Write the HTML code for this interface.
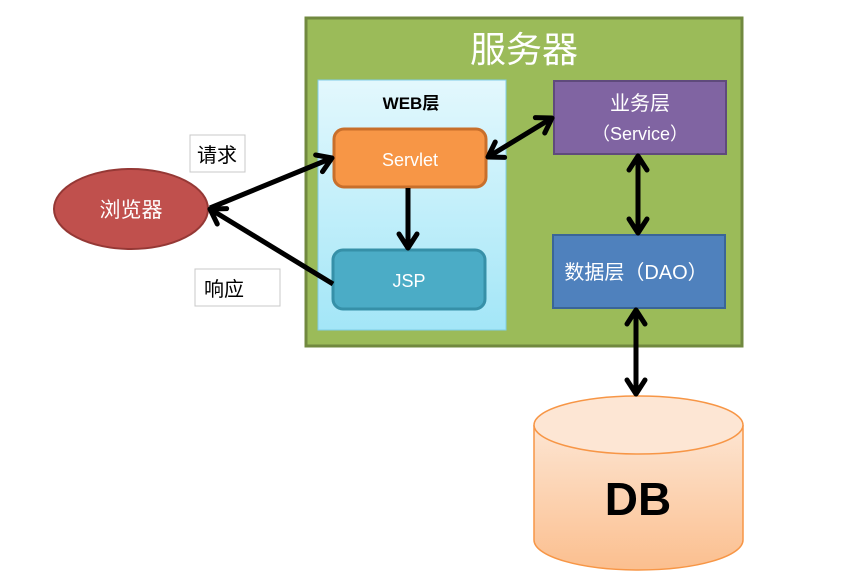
<!DOCTYPE html>
<html><head><meta charset="utf-8"><style>
html,body{margin:0;padding:0;background:#fff;width:850px;height:585px;overflow:hidden}
text{font-family:"Liberation Sans","Noto Sans CJK SC",sans-serif}
</style></head><body>
<svg width="850" height="585" viewBox="0 0 850 585" xmlns="http://www.w3.org/2000/svg">
<defs>
<linearGradient id="web" x1="0" y1="0" x2="0" y2="1"><stop offset="0" stop-color="#e3f8fd"/><stop offset="1" stop-color="#a3e6f7"/></linearGradient>
<linearGradient id="db" x1="0" y1="0" x2="0" y2="1"><stop offset="0" stop-color="#fde5d2"/><stop offset="1" stop-color="#fbbf8f"/></linearGradient>
<marker id="ah" viewBox="0 0 24 24" refX="20" refY="12" markerWidth="24" markerHeight="24" markerUnits="userSpaceOnUse" orient="auto-start-reverse">
<polyline points="6,3 20,12 6,21" fill="none" stroke="#000" stroke-width="5" stroke-linecap="round" stroke-linejoin="round"/>
</marker>
</defs>
<rect x="306" y="18" width="436" height="328" fill="#9bbb59" stroke="#71893f" stroke-width="3"/>
<text x="524" y="62" font-size="36" fill="#fff" text-anchor="middle">服务器</text>
<rect x="318" y="80" width="188" height="250" fill="url(#web)" stroke="#7fcde6" stroke-width="1"/>
<text x="411" y="109" font-size="17" font-weight="bold" text-anchor="middle" fill="#000">WEB层</text>
<rect x="334" y="129" width="152" height="58" rx="10" fill="#f79646" stroke="#c86f2b" stroke-width="3"/>
<text x="410" y="166" font-size="18" fill="#fff" text-anchor="middle">Servlet</text>
<rect x="333" y="250" width="152" height="59" rx="10" fill="#4bacc6" stroke="#3690a8" stroke-width="3"/>
<text x="409" y="287" font-size="18" fill="#fff" text-anchor="middle">JSP</text>
<rect x="554" y="81" width="172" height="73" fill="#8064a2" stroke="#5f4a7c" stroke-width="2"/>
<text x="640" y="110" font-size="20" fill="#fff" text-anchor="middle">业务层</text>
<text x="640" y="140" font-size="18" fill="#fff" text-anchor="middle">（Service）</text>
<rect x="553" y="235" width="172" height="73" fill="#4f81bd" stroke="#3a6598" stroke-width="2"/>
<text x="636" y="279" font-size="20" fill="#fff" text-anchor="middle">数据层（DAO）</text>
<ellipse cx="131" cy="209" rx="77" ry="40" fill="#c0504d" stroke="#953835" stroke-width="2"/>
<text x="131" y="217" font-size="21" fill="#fff" text-anchor="middle">浏览器</text>
<rect x="190" y="135" width="55" height="37" fill="#fff" stroke="#c8c8c8"/>
<text x="217" y="162" font-size="20" text-anchor="middle" fill="#000">请求</text>
<rect x="195" y="269" width="85" height="37" fill="#fff" stroke="#c8c8c8"/>
<text x="224" y="296" font-size="20" text-anchor="middle" fill="#000">响应</text>
<path d="M534,425 L534,540 A104.5,30 0 0 0 743,540 L743,425" fill="url(#db)" stroke="#f79646" stroke-width="1.5"/>
<ellipse cx="638.5" cy="425" rx="104.5" ry="29" fill="#fde6d4" stroke="#f79646" stroke-width="1.5"/>
<text x="638" y="515" font-size="46" font-weight="bold" text-anchor="middle" fill="#000">DB</text>
<g stroke="#000" stroke-width="5" fill="none">
<line x1="210" y1="208" x2="332" y2="158" marker-end="url(#ah)"/>
<line x1="333" y1="284" x2="210" y2="209" marker-end="url(#ah)"/>
<line x1="408" y1="188" x2="408" y2="248" marker-end="url(#ah)"/>
<line x1="488" y1="157" x2="552" y2="118" marker-start="url(#ah)" marker-end="url(#ah)"/>
<line x1="638" y1="156" x2="638" y2="233" marker-start="url(#ah)" marker-end="url(#ah)"/>
<line x1="636" y1="310" x2="636" y2="394" marker-start="url(#ah)" marker-end="url(#ah)"/>
</g>
</svg>
</body></html>
